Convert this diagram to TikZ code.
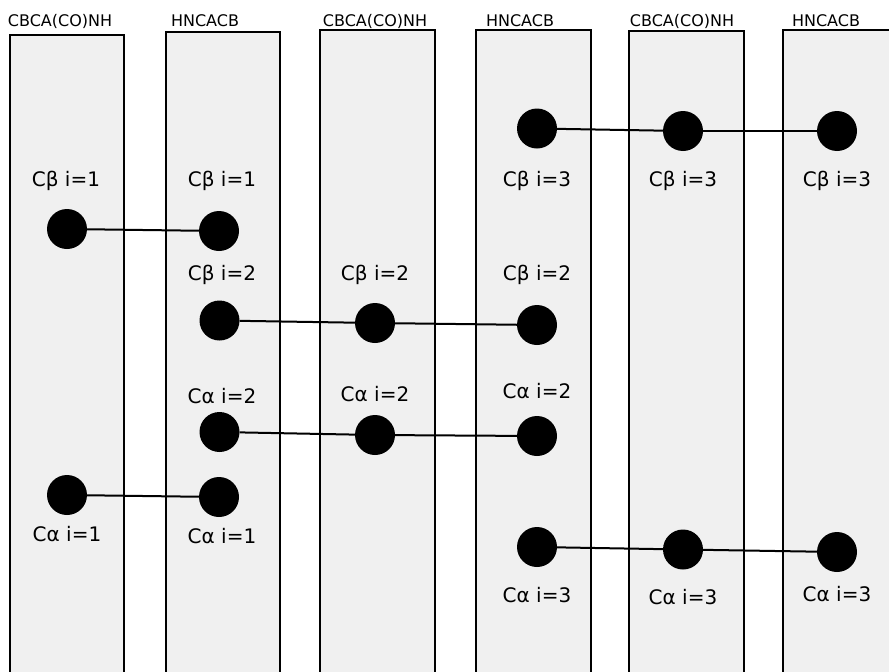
\documentclass[tikz,border=0pt]{standalone}
\usepackage{fontspec}
\setmainfont{DejaVu Sans}
\definecolor{panel}{RGB}{240,240,240}
\begin{document}
\begin{tikzpicture}[x=1pt,y=-1pt,
  panelbox/.style={draw=black,line width=2pt,fill=panel},
  dot/.style={circle,fill=black,minimum size=40pt,inner sep=0pt},
  lbl/.style={anchor=base,font=\fontsize{20}{24}\selectfont,inner sep=0pt},
  hdr/.style={anchor=base,font=\fontsize{16}{19}\selectfont,inner sep=0pt},
  link/.style={line width=2pt}]
\useasboundingbox (0,0) rectangle (889,672);
\clip (0,0) rectangle (889,672);
\fill[white] (0,0) rectangle (889,672);
% panels
\draw[panelbox] (10,35) rectangle (124,700);
\draw[panelbox] (166,32) rectangle (280,700);
\draw[panelbox] (320,30) rectangle (435,700);
\draw[panelbox] (476,29.5) rectangle (591,700);
\draw[panelbox] (629,30.5) rectangle (744,700);
\draw[panelbox] (783,30) rectangle (900,700);
% headers
\node[hdr] (h1) at (60,26.5) {CBCA(CO)NH};
\node[hdr] (h2) at (205,26.5) {HNCACB};
\node[hdr] (h3) at (375,26.5) {CBCA(CO)NH};
\node[hdr] (h4) at (520,26.5) {HNCACB};
\node[hdr] (h5) at (682,26.5) {CBCA(CO)NH};
\node[hdr] (h6) at (826,26.5) {HNCACB};
% Cbeta i=1
\node[dot] (b1a) at (67,229) {};
\node[dot] (b1b) at (219,231) {};
\node[lbl] (lb1a) at (66,186) {Cβ i=1};
\node[lbl] (lb1b) at (222,186) {Cβ i=1};
% Cbeta i=2
\node[dot] (b2a) at (219.5,320.5) {};
\node[dot] (b2b) at (375,323) {};
\node[dot] (b2c) at (537,325) {};
\node[lbl] (lb2a) at (222,280) {Cβ i=2};
\node[lbl] (lb2b) at (375,280) {Cβ i=2};
\node[lbl] (lb2c) at (537,280) {Cβ i=2};
% Calpha i=2
\node[dot] (a2a) at (219.5,432) {};
\node[dot] (a2b) at (375,435) {};
\node[dot] (a2c) at (537,436) {};
\node[lbl] (la2a) at (222,403) {Cα i=2};
\node[lbl] (la2b) at (375,401) {Cα i=2};
\node[lbl] (la2c) at (537,398) {Cα i=2};
% Calpha i=1
\node[dot] (a1a) at (67,495) {};
\node[dot] (a1b) at (219,497) {};
\node[lbl] (la1a) at (67,541) {Cα i=1};
\node[lbl] (la1b) at (222,543) {Cα i=1};
% Cbeta i=3
\node[dot] (b3a) at (537,128.5) {};
\node[dot] (b3b) at (683,131) {};
\node[dot] (b3c) at (837,131) {};
\node[lbl] (lb3a) at (537,186) {Cβ i=3};
\node[lbl] (lb3b) at (683,186) {Cβ i=3};
\node[lbl] (lb3c) at (837,186) {Cβ i=3};
% Calpha i=3
\node[dot] (a3a) at (537,547) {};
\node[dot] (a3b) at (683,549.5) {};
\node[dot] (a3c) at (837,552) {};
\node[lbl] (la3a) at (537,602) {Cα i=3};
\node[lbl] (la3b) at (683,604) {Cα i=3};
\node[lbl] (la3c) at (837,601) {Cα i=3};
% links
\draw[link] (b1a) -- (b1b);
\draw[link] (b2a) -- (b2b);
\draw[link] (b2b) -- (b2c);
\draw[link] (a2a) -- (a2b);
\draw[link] (a2b) -- (a2c);
\draw[link] (a1a) -- (a1b);
\draw[link] (b3a) -- (b3b);
\draw[link] (b3b) -- (b3c);
\draw[link] (a3a) -- (a3b);
\draw[link] (a3b) -- (a3c);
\end{tikzpicture}
\end{document}
